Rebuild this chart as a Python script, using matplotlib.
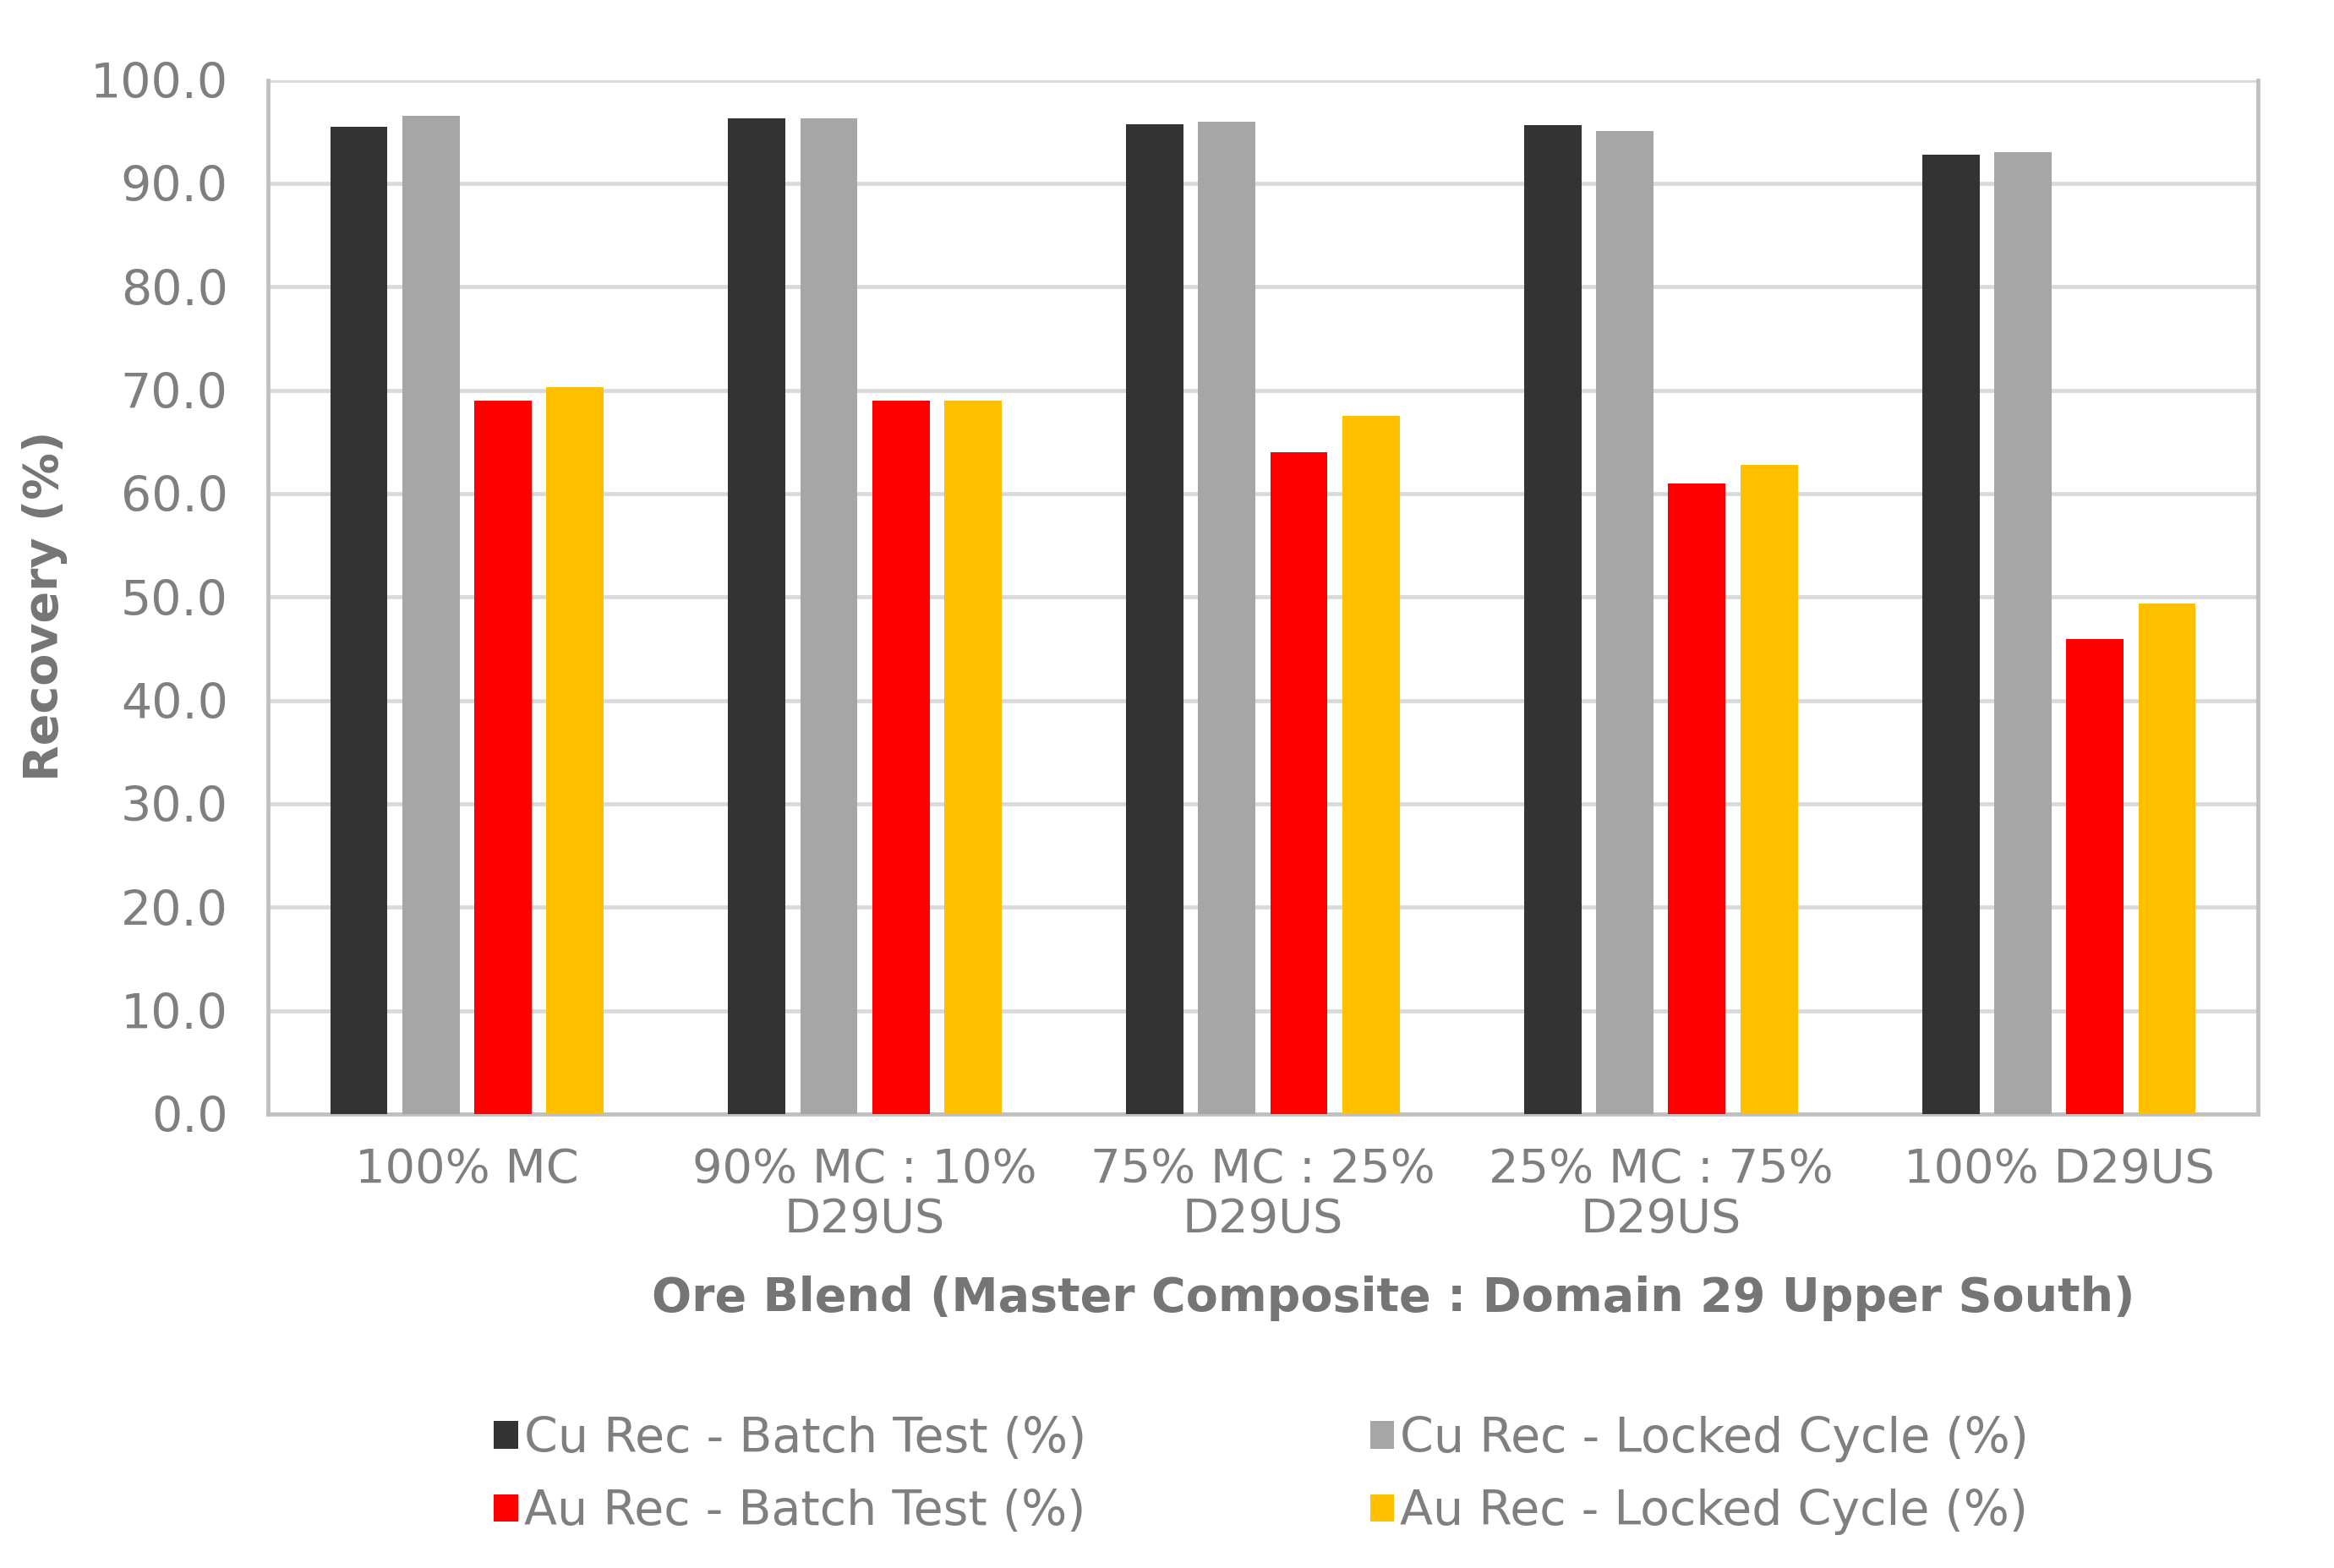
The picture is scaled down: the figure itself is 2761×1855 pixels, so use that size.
import numpy as np
import matplotlib
matplotlib.use("Agg")
import matplotlib.pyplot as plt

# ore blends (x categories)
blends = ["100% MC", "90% MC : 10%\nD29US", "75% MC : 25%\nD29US",
          "25% MC : 75%\nD29US", "100% D29US"]

series_names = ["Cu Rec - Batch Test (%)", "Cu Rec - Locked Cycle (%)",
                "Au Rec - Batch Test (%)", "Au Rec - Locked Cycle (%)"]
cu_batch = [95.5, 96.3, 95.7, 95.6, 92.8]
cu_locked = [96.5, 96.3, 96.0, 95.1, 93.0]
au_batch = [69.0, 69.0, 64.0, 61.0, 45.9]
au_locked = [70.3, 69.0, 67.5, 62.8, 49.4]
colors = ["#333333", "#a6a6a6", "#ff0000", "#ffc000"]

TXT = "#7f7f7f"
plt.rcParams["font.family"] = ["DejaVu Sans"]

fig = plt.figure(figsize=(13.805, 9.275), dpi=200)
ax = fig.add_axes([0.1148, 0.2895, 0.8526, 0.6595])

x = np.arange(len(blends))
width = 0.144
step = 0.181
bars = []
for i, (vals, name, c) in enumerate(zip([cu_batch, cu_locked, au_batch, au_locked],
                                         series_names, colors)):
    bars.append(ax.bar(x + (i - 1.5) * step, vals, width, color=c, label=name, zorder=3))

ax.set_xlim(-0.5, len(blends) - 0.5)
ax.set_ylim(0, 100)
ax.set_yticks(np.arange(0, 101, 10))
ax.yaxis.set_major_formatter(matplotlib.ticker.FormatStrFormatter("%.1f"))
ax.set_xticks(x)
ax.set_xticklabels(blends, linespacing=1.12, fontsize=20.1)
ax.grid(axis="y", color="#d9d9d9", linewidth=1.7, zorder=0)
ax.tick_params(axis="both", length=0, labelcolor=TXT)
ax.tick_params(axis="y", pad=17, labelsize=20.5)
ax.tick_params(axis="x", pad=14)
for side in ["left", "right", "bottom"]:
    ax.spines[side].set_color("#bfbfbf")
    ax.spines[side].set_linewidth(1.7)
ax.spines["top"].set_visible(False)

fig.text(0.0191, 0.6135, "Recovery (%)", rotation=90, ha="center", va="center",
         fontsize=20, fontweight="bold", color="#757575")
fig.text(0.597, 0.172, "Ore Blend (Master Composite : Domain 29 Upper South)",
         ha="center", va="center", fontsize=20, fontweight="bold", color="#757575")

# row-major order: Cu pair on top row, Au pair below
order = [0, 2, 1, 3]
leg = fig.legend([bars[k] for k in order], [series_names[k] for k in order],
                 loc="center", bbox_to_anchor=(0.5405, 0.059), ncol=2, frameon=False,
                 fontsize=20.5, handlelength=0.5, handleheight=0.5, handletextpad=0.12,
                 columnspacing=5.9, labelspacing=0.55)
for t in leg.get_texts():
    t.set_color(TXT)

fig.savefig("out.png", dpi=200, facecolor="white")
